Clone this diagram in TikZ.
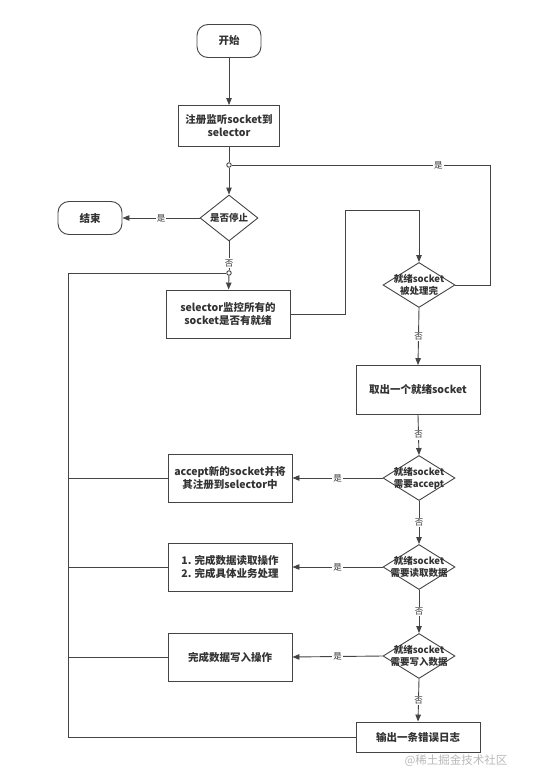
\documentclass[tikz,border=0pt]{standalone}
\usepackage{fontspec}
\setmainfont{Noto Sans CJK SC}
\usetikzlibrary{shapes.geometric,arrows.meta}

\definecolor{ln}{HTML}{444444}
\definecolor{txt}{HTML}{333333}

\tikzset{
  boxfont/.style={font=\fontsize{10.5}{13}\selectfont\bfseries, text=txt},
  terminal/.style={boxfont, draw=ln, rounded corners=11pt, minimum width=64pt, minimum height=33pt},
  proc/.style={boxfont, draw=ln, align=center, minimum width=124pt, minimum height=48pt},
  decide/.style={draw=ln, diamond, aspect=1.6, inner sep=0pt, minimum width=72pt, minimum height=45pt},
  dtext/.style={boxfont, align=center, font=\fontsize{9.5}{12}\selectfont\bfseries},
  flow/.style={draw=ln, -{Triangle[length=7pt,width=5.5pt]}},
  link/.style={draw=ln},
  tag/.style={fill=white, inner sep=1pt, text=txt, font=\fontsize{8.5}{9}\selectfont},
  joint/.style={circle, draw=ln, fill=white, inner sep=0pt, minimum size=4.5pt}
}

\begin{document}
\begin{tikzpicture}[x=1pt, y=-1pt, line width=0.9pt]

\useasboundingbox (0,0) rectangle (535,784);

% Main column
\node[terminal] (start) at (229,41) {开始};
\node[proc, minimum width=101pt, minimum height=41pt] (reg) at (229,126) {注册监听socket到\\selector};
\node[decide, minimum width=58pt, minimum height=46pt,
      label={[dtext]center:是否停止}] (stop) at (229,218) {};
\node[terminal] (end) at (90,218) {结束};
\node[proc] (watch) at (228,314) {selector监控所有的\\socket是否有就绪};

% Right column
\node[decide, label={[dtext]center:就绪socket\\被处理完}] (done) at (419,285) {};
\node[proc, minimum height=49pt] (take) at (418,390) {取出一个就绪socket};
\node[decide, label={[dtext]center:就绪socket\\需要accept}] (acc) at (419,478) {};
\node[decide, label={[dtext]center:就绪socket\\需要读取数据}] (rd) at (419,567) {};
\node[decide, label={[dtext]center:就绪socket\\需要写入数据}] (wr) at (419,656) {};
\node[proc, minimum height=30pt] (log) at (418,737) {输出一条错误日志};

% Handlers
\node[proc] (accbox) at (230,478) {accept新的socket并将\\其注册到selector中};
\node[proc] (rdbox) at (230,567) {1. 完成数据读取操作\\2. 完成具体业务处理};
\node[proc] (wrbox) at (230,657) {完成数据写入操作};

% Junctions and bends
\node[joint] (j1) at (229,165) {};
\node[joint] (j2) at (229,273) {};
\coordinate (c1) at (345,210);
\coordinate (c2) at (490,165);
\coordinate (bus) at (68,273);

% Connectors
\draw[flow] (start) -- (reg);
\draw[link] (reg) -- (j1);
\draw[flow] (j1) -- (stop);
\draw[flow] (stop.west) -- node[tag] {是} (end.east);
\draw[link] (stop.south) -- node[tag, pos=0.75] {否} (j2);
\draw[flow] (j2) -- (watch);
\draw[flow] (watch.east) -| (c1) -| (done.north);
\draw[link] (done.east) -| (c2) -- node[tag, pos=0.2] {是} (j1);
\draw[flow] (done.south) -- node[tag] {否} (take.north);
\draw[flow] (take.south) -- node[tag] {否} (acc.north);
\draw[flow] (acc.west) -- node[tag] {是} (accbox.east);
\draw[flow] (acc.south) -- node[tag] {否} (rd.north);
\draw[flow] (rd.west) -- node[tag] {是} (rdbox.east);
\draw[flow] (rd.south) -- node[tag] {否} (wr.north);
\draw[flow] (wr.west) -- node[tag] {是} (wrbox.east);
\draw[flow] (wr.south) -- node[tag] {否} (log.north);

% Back to the loop
\draw[link] (log.west) -| (bus) -- (j2);
\draw[link] (accbox.west) -- (accbox.west -| bus);
\draw[link] (rdbox.west) -- (rdbox.west -| bus);
\draw[link] (wrbox.west) -- (wrbox.west -| bus);

% Watermark
\node[text=gray!55, font=\fontsize{11.5}{12}\selectfont] (mark) at (456,761) {@稀土掘金技术社区};

\end{tikzpicture}
\end{document}
